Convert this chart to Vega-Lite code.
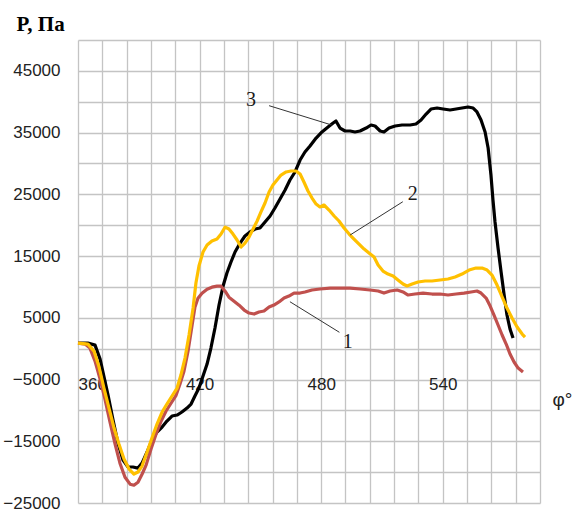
{
  "$schema": "https://vega.github.io/schema/vega-lite/v6.json",
  "width": 462,
  "height": 463,
  "autosize": "none",
  "padding": {"left": 78, "top": 40, "right": 33, "bottom": 7},
  "background": "white",
  "config": {
    "view": {"stroke": null},
    "axis": {
      "grid": true,
      "gridColor": "#c4c4c4",
      "gridWidth": 1.3,
      "domain": false,
      "ticks": false,
      "tickSize": 0,
      "tickCount": 40,
      "labelFont": "Liberation Sans",
      "labelFontSize": 17,
      "labelColor": "#222222"
    }
  },
  "datasets": {
    "curve3": [
      {"phi": 360, "p": 900}, {"phi": 364.9, "p": 900}, {"phi": 368.4, "p": 570}, {"phi": 370.9, "p": -1700},
      {"phi": 374.8, "p": -7500}, {"phi": 377.3, "p": -11560}, {"phi": 379.7, "p": -15290}, {"phi": 382.2, "p": -18040},
      {"phi": 384.7, "p": -19170}, {"phi": 387.1, "p": -19170}, {"phi": 389.6, "p": -19340}, {"phi": 391.6, "p": -18530},
      {"phi": 394.1, "p": -16740}, {"phi": 396.5, "p": -14800}, {"phi": 399, "p": -13500}, {"phi": 401.5, "p": -12690},
      {"phi": 403.9, "p": -11720}, {"phi": 406.4, "p": -10910}, {"phi": 408.9, "p": -10750}, {"phi": 411.3, "p": -10260},
      {"phi": 413.8, "p": -9620}, {"phi": 415.8, "p": -8970}, {"phi": 417.7, "p": -7670}, {"phi": 419.7, "p": -6380},
      {"phi": 421.7, "p": -4430}, {"phi": 423.7, "p": -2490}, {"phi": 425.6, "p": 100}, {"phi": 427.6, "p": 3340},
      {"phi": 429.6, "p": 7070}, {"phi": 431.6, "p": 10150}, {"phi": 433.5, "p": 12250}, {"phi": 435.5, "p": 14040},
      {"phi": 437.5, "p": 15660}, {"phi": 440, "p": 17110}, {"phi": 442.4, "p": 18250}, {"phi": 444.9, "p": 18900},
      {"phi": 447.4, "p": 19380}, {"phi": 449.8, "p": 19540}, {"phi": 452.3, "p": 20520}, {"phi": 454.8, "p": 21490},
      {"phi": 457.2, "p": 22780}, {"phi": 459.7, "p": 24240}, {"phi": 462.2, "p": 25700}, {"phi": 464.6, "p": 27320},
      {"phi": 467.1, "p": 28620}, {"phi": 469.6, "p": 30560}, {"phi": 472, "p": 31860}, {"phi": 474.5, "p": 32830},
      {"phi": 477.5, "p": 34120}, {"phi": 480.4, "p": 35100}, {"phi": 483.4, "p": 35900}, {"phi": 485.9, "p": 36550},
      {"phi": 487.3, "p": 36880}, {"phi": 489.3, "p": 35740}, {"phi": 491.8, "p": 35260}, {"phi": 494.3, "p": 35260},
      {"phi": 496.7, "p": 35100}, {"phi": 499.2, "p": 35260}, {"phi": 502.2, "p": 35740}, {"phi": 504.6, "p": 36230},
      {"phi": 506.6, "p": 36070}, {"phi": 509.1, "p": 35260}, {"phi": 511, "p": 35100}, {"phi": 513.5, "p": 35740},
      {"phi": 516.5, "p": 36070}, {"phi": 519.9, "p": 36230}, {"phi": 523.9, "p": 36230}, {"phi": 526.8, "p": 36390},
      {"phi": 529.3, "p": 37040}, {"phi": 531.8, "p": 38010}, {"phi": 534.2, "p": 38820}, {"phi": 537.2, "p": 38980},
      {"phi": 540.2, "p": 38820}, {"phi": 543.6, "p": 38660}, {"phi": 546.6, "p": 38820}, {"phi": 549.5, "p": 38980},
      {"phi": 552.5, "p": 39150}, {"phi": 555, "p": 38980}, {"phi": 556.9, "p": 38340}, {"phi": 558.9, "p": 37040},
      {"phi": 560.9, "p": 35100}, {"phi": 562.4, "p": 32500}, {"phi": 563.8, "p": 28130}, {"phi": 564.8, "p": 24080},
      {"phi": 565.8, "p": 20520}, {"phi": 567.3, "p": 16300}, {"phi": 568.8, "p": 12420}, {"phi": 570.3, "p": 8690},
      {"phi": 571.7, "p": 5450}, {"phi": 573.2, "p": 3180}, {"phi": 574.7, "p": 1720}
    ],
    "curve2": [
      {"phi": 360, "p": 900}, {"phi": 364.9, "p": 740}, {"phi": 367.9, "p": -390}, {"phi": 370.4, "p": -2980},
      {"phi": 372.8, "p": -6380}, {"phi": 375.3, "p": -9620}, {"phi": 377.8, "p": -12860}, {"phi": 380.2, "p": -15450},
      {"phi": 382.7, "p": -17880}, {"phi": 385.2, "p": -19500}, {"phi": 387.6, "p": -20310}, {"phi": 389.6, "p": -19980},
      {"phi": 391.6, "p": -19010}, {"phi": 394.1, "p": -16740}, {"phi": 396.5, "p": -14480}, {"phi": 399, "p": -12210},
      {"phi": 401.5, "p": -10260}, {"phi": 403.9, "p": -8970}, {"phi": 406.4, "p": -7670}, {"phi": 408.9, "p": -6380},
      {"phi": 410.8, "p": -4270}, {"phi": 412.8, "p": -1520}, {"phi": 414.8, "p": 2210}, {"phi": 416.8, "p": 6580},
      {"phi": 418.2, "p": 10630}, {"phi": 419.7, "p": 13380}, {"phi": 421.7, "p": 15660}, {"phi": 423.7, "p": 16790},
      {"phi": 426.1, "p": 17440}, {"phi": 428.6, "p": 17760}, {"phi": 430.6, "p": 18570}, {"phi": 432.6, "p": 19700},
      {"phi": 434.5, "p": 19380}, {"phi": 436.5, "p": 18570}, {"phi": 438.5, "p": 17600}, {"phi": 440.5, "p": 16470},
      {"phi": 442.4, "p": 17110}, {"phi": 444.4, "p": 18090}, {"phi": 446.4, "p": 19380}, {"phi": 448.4, "p": 20680},
      {"phi": 450.3, "p": 22140}, {"phi": 452.3, "p": 23600}, {"phi": 454.3, "p": 25380}, {"phi": 456.2, "p": 26510},
      {"phi": 458.2, "p": 27320}, {"phi": 460.2, "p": 28130}, {"phi": 462.7, "p": 28620}, {"phi": 465.1, "p": 28780},
      {"phi": 467.6, "p": 28780}, {"phi": 469.6, "p": 28300}, {"phi": 471.5, "p": 27000}, {"phi": 473.5, "p": 25540},
      {"phi": 475.5, "p": 24400}, {"phi": 477.5, "p": 23430}, {"phi": 479.4, "p": 22950}, {"phi": 481.4, "p": 23270},
      {"phi": 483.9, "p": 22460}, {"phi": 486.4, "p": 21490}, {"phi": 488.8, "p": 20680}, {"phi": 491.3, "p": 19540},
      {"phi": 493.8, "p": 18570}, {"phi": 496.2, "p": 17760}, {"phi": 498.7, "p": 16950}, {"phi": 501.2, "p": 16130},
      {"phi": 503.6, "p": 15490}, {"phi": 506.1, "p": 14840}, {"phi": 508.1, "p": 13540}, {"phi": 510.5, "p": 12580},
      {"phi": 513, "p": 12090}, {"phi": 515.5, "p": 11770}, {"phi": 517.9, "p": 11120}, {"phi": 520.4, "p": 10470},
      {"phi": 522.4, "p": 10150}, {"phi": 524.9, "p": 10470}, {"phi": 527.8, "p": 10800}, {"phi": 531.3, "p": 10960},
      {"phi": 534.7, "p": 10960}, {"phi": 538.7, "p": 11120}, {"phi": 542.6, "p": 11280}, {"phi": 546.1, "p": 11610},
      {"phi": 549.5, "p": 12090}, {"phi": 553, "p": 12740}, {"phi": 556.4, "p": 13060}, {"phi": 559.4, "p": 13060},
      {"phi": 561.9, "p": 12740}, {"phi": 564.3, "p": 11930}, {"phi": 566.8, "p": 10310}, {"phi": 569.3, "p": 8370},
      {"phi": 571.7, "p": 6580}, {"phi": 574.2, "p": 4960}, {"phi": 576.7, "p": 3500}, {"phi": 579.2, "p": 2370},
      {"phi": 580.6, "p": 1880}
    ],
    "curve1": [
      {"phi": 360, "p": 900}, {"phi": 363.5, "p": 740}, {"phi": 365.9, "p": 90}, {"phi": 368.4, "p": -2020},
      {"phi": 370.9, "p": -4940}, {"phi": 373.3, "p": -8180}, {"phi": 375.8, "p": -11910}, {"phi": 378.3, "p": -15470},
      {"phi": 380.7, "p": -18550}, {"phi": 383.2, "p": -20820}, {"phi": 385.7, "p": -21950}, {"phi": 387.6, "p": -22120},
      {"phi": 389.6, "p": -21630}, {"phi": 391.6, "p": -20340}, {"phi": 393.6, "p": -18870}, {"phi": 396, "p": -16280},
      {"phi": 398.5, "p": -13850}, {"phi": 401, "p": -11760}, {"phi": 403.4, "p": -10140}, {"phi": 405.9, "p": -8840},
      {"phi": 408.4, "p": -7550}, {"phi": 410.3, "p": -5770}, {"phi": 412.3, "p": -3660}, {"phi": 414.3, "p": -420},
      {"phi": 416.3, "p": 3790}, {"phi": 417.7, "p": 6720}, {"phi": 419.2, "p": 8180}, {"phi": 421.2, "p": 8990},
      {"phi": 423.7, "p": 9640}, {"phi": 426.1, "p": 9960}, {"phi": 428.6, "p": 10120}, {"phi": 430.6, "p": 10120},
      {"phi": 432.6, "p": 9310}, {"phi": 434.5, "p": 8340}, {"phi": 437, "p": 7690}, {"phi": 439.5, "p": 7040},
      {"phi": 442, "p": 6260}, {"phi": 444.4, "p": 5770}, {"phi": 446.9, "p": 5610}, {"phi": 449.3, "p": 5940},
      {"phi": 451.8, "p": 6100}, {"phi": 454.3, "p": 6750}, {"phi": 456.7, "p": 7070}, {"phi": 459.2, "p": 7560},
      {"phi": 461.7, "p": 8200}, {"phi": 464.1, "p": 8530}, {"phi": 466.6, "p": 9010}, {"phi": 469.6, "p": 9010},
      {"phi": 472, "p": 9180}, {"phi": 475.5, "p": 9500}, {"phi": 479.4, "p": 9660}, {"phi": 484.4, "p": 9820},
      {"phi": 489.3, "p": 9820}, {"phi": 494.3, "p": 9820}, {"phi": 499.2, "p": 9660}, {"phi": 504.1, "p": 9500},
      {"phi": 508.1, "p": 9340}, {"phi": 511, "p": 9010}, {"phi": 514, "p": 9340}, {"phi": 517.5, "p": 9500},
      {"phi": 520.4, "p": 9180}, {"phi": 522.9, "p": 8690}, {"phi": 526.3, "p": 8850}, {"phi": 530.3, "p": 9010},
      {"phi": 534.7, "p": 8850}, {"phi": 538.7, "p": 8850}, {"phi": 542.6, "p": 8690}, {"phi": 546.6, "p": 8850},
      {"phi": 550.5, "p": 9010}, {"phi": 554, "p": 9180}, {"phi": 556.9, "p": 9340}, {"phi": 558.9, "p": 9010},
      {"phi": 561.4, "p": 8200}, {"phi": 563.4, "p": 6900}, {"phi": 565.3, "p": 5450}, {"phi": 567.3, "p": 3830},
      {"phi": 569.3, "p": 2210}, {"phi": 571.3, "p": 750}, {"phi": 573.2, "p": -870}, {"phi": 575.2, "p": -2160},
      {"phi": 577.2, "p": -3140}, {"phi": 579.6, "p": -3780}
    ],
    "callouts": [
      {"label": "3", "phi": 445.4, "p": 40280, "phi1": 454.3, "p1": 39360, "phi2": 485.2, "p2": 36230},
      {"label": "2", "phi": 525.2, "p": 25050, "phi1": 520.3, "p1": 23800, "phi2": 494.3, "p2": 18410},
      {"label": "1", "phi": 493.1, "p": 1080, "phi1": 464.6, "p1": 7600, "phi2": 489, "p2": 2650}
    ]
  },
  "layer": [
    {
      "data": {"name": "curve3"},
      "mark": {"type": "line", "color": "#000000", "strokeWidth": 3.2, "strokeJoin": "round"},
      "encoding": {
        "x": {
          "field": "phi", "type": "quantitative",
          "scale": {"domain": [360, 588], "nice": false, "zero": false},
          "axis": {
            "values": [360, 372, 384, 396, 408, 420, 432, 444, 456, 468, 480, 492, 504, 516, 528, 540, 552, 564, 576, 588],
            "tickCount": 40,
            "labelExpr": "(datum.value - 360) % 60 === 0 ? datum.label : ''",
            "format": "d",
            "offset": -127,
            "labelPadding": 0,
            "labelOverlap": false,
            "title": "φ°",
            "titleFont": "Liberation Sans",
            "titleFontSize": 19,
            "titleFontWeight": "normal",
            "titleColor": "#222222",
            "titleAlign": "center",
            "titleBaseline": "middle",
            "titleX": 484,
            "titleY": 23
          }
        },
        "y": {
          "field": "p", "type": "quantitative",
          "scale": {"domain": [-25000, 50000], "nice": false, "zero": false},
          "axis": {
            "values": [-25000, -20000, -15000, -10000, -5000, 0, 5000, 10000, 15000, 20000, 25000, 30000, 35000, 40000, 45000, 50000],
            "tickCount": 40,
            "labelExpr": "(datum.value / 5000) % 2 !== 0 ? datum.label : ''",
            "format": "d",
            "labelPadding": 18,
            "labelOverlap": false,
            "title": "P, Па",
            "titleFont": "Liberation Serif",
            "titleFontSize": 21,
            "titleFontWeight": "bold",
            "titleColor": "#000000",
            "titleAngle": 0,
            "titleAlign": "center",
            "titleBaseline": "middle",
            "titleX": -38,
            "titleY": -16
          }
        }
      }
    },
    {
      "data": {"name": "curve1"},
      "mark": {"type": "line", "color": "#C0504D", "strokeWidth": 3.2, "strokeJoin": "round"},
      "encoding": {
        "x": {"field": "phi", "type": "quantitative"},
        "y": {"field": "p", "type": "quantitative"}
      }
    },
    {
      "data": {"name": "curve2"},
      "mark": {"type": "line", "color": "#FFC000", "strokeWidth": 3.2, "strokeJoin": "round"},
      "encoding": {
        "x": {"field": "phi", "type": "quantitative"},
        "y": {"field": "p", "type": "quantitative"}
      }
    },
    {
      "data": {"name": "callouts"},
      "mark": {"type": "rule", "color": "#333333", "strokeWidth": 1},
      "encoding": {
        "x": {"field": "phi1", "type": "quantitative"},
        "y": {"field": "p1", "type": "quantitative"},
        "x2": {"field": "phi2"},
        "y2": {"field": "p2"}
      }
    },
    {
      "data": {"name": "callouts"},
      "mark": {"type": "text", "font": "Liberation Serif", "fontSize": 20, "color": "#1a1a1a", "align": "center", "baseline": "middle"},
      "encoding": {
        "x": {"field": "phi", "type": "quantitative"},
        "y": {"field": "p", "type": "quantitative"},
        "text": {"field": "label"}
      }
    }
  ]
}
